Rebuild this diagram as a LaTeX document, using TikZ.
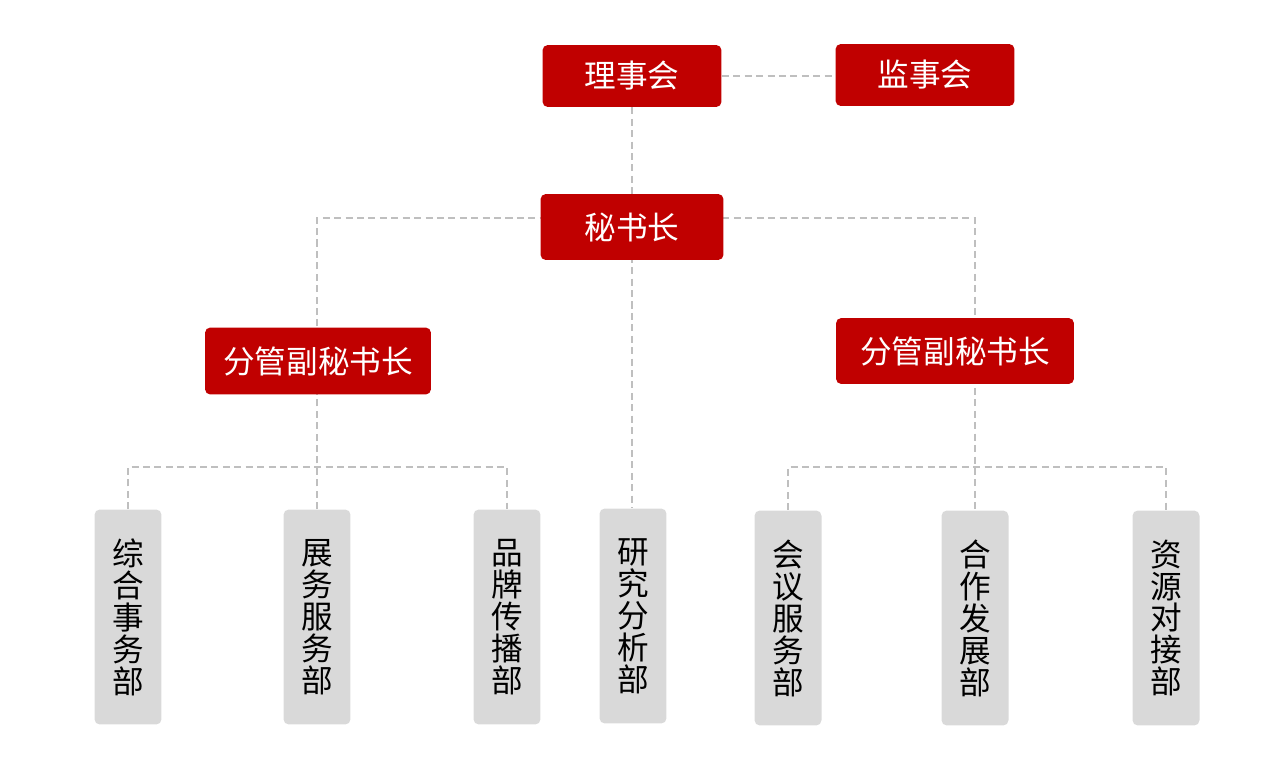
\documentclass[tikz,border=0pt]{standalone}
\usepackage{fontspec}
\setmainfont{Noto Sans CJK SC}
\usetikzlibrary{positioning,backgrounds}
\definecolor{headred}{RGB}{192,0,0}
\definecolor{deptgray}{RGB}{217,217,217}
\definecolor{linkgray}{RGB}{191,191,191}

\begin{document}
\begin{tikzpicture}[
    x=0.02cm, y=-0.02cm,
    head/.style={rectangle, rounded corners=3pt, fill=headred, text=white, minimum height=1.28cm, font=\fontsize{18}{18}\selectfont},
    dept/.style={rectangle, rounded corners=3pt, fill=deptgray, text=black, minimum width=1.34cm, minimum height=4.3cm, align=center, font=\fontsize{18}{18.2}\selectfont},
    link/.style={draw=linkgray, line width=0.7pt, dash pattern=on 4pt off 2.5pt}
]
\useasboundingbox (0,0) rectangle (1272,761);

% top level
\node[head, minimum width=3.58cm, minimum height=1.24cm] (lishi) at (632,76) {理事会};
\node[head, minimum width=3.58cm, minimum height=1.24cm] (jianshi) at (925,75) {监事会};
\node[head, minimum width=3.66cm, minimum height=1.32cm] (mishu) at (632,227) {秘书长};

% deputies
\node[head, minimum width=4.52cm, minimum height=1.34cm] (fgL) at (318,361) {分管副秘书长};
\node[head, minimum width=4.76cm, minimum height=1.32cm] (fgR) at (955,351) {分管副秘书长};

% departments
\node[dept] (zonghe) at (128,617) {综\\合\\事\\务\\部};
\node[dept] (zhanwu) at (317,617) {展\\务\\服\\务\\部};
\node[dept] (pinpai) at (507,617) {品\\牌\\传\\播\\部};
\node[dept] (yanjiu) at (633,616) {研\\究\\分\\析\\部};
\node[dept] (huiyi) at (788,618) {会\\议\\服\\务\\部};
\node[dept] (hezuo) at (975,618) {合\\作\\发\\展\\部};
\node[dept] (ziyuan) at (1166,618) {资\\源\\对\\接\\部};

\coordinate (hub) at (632,218);
\coordinate (busL) at (318,467);
\coordinate (busR) at (976,467);

% connectors
\begin{scope}[on background layer]
\draw[link] (lishi.east) -- (lishi.east -| jianshi.west);
\draw[link] (lishi.south) -- (lishi.south |- yanjiu.north);
\draw[link] (zhanwu.north) |- (hub) -| (hezuo.north);
\draw[link] (zonghe.north) |- (busL) -| (pinpai.north);
\draw[link] (huiyi.north) |- (busR) -| (ziyuan.north);
\end{scope}

\end{tikzpicture}
\end{document}
